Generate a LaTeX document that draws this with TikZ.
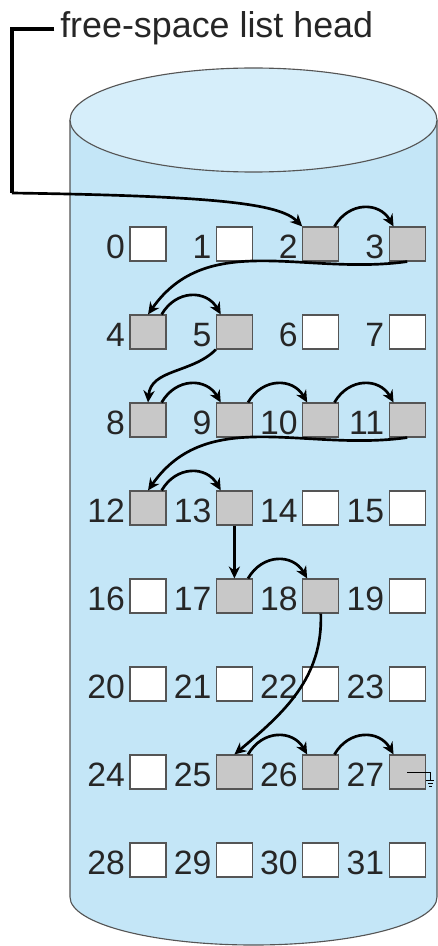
\documentclass[tikz,border=0pt]{standalone}
\usepackage{fontspec}
\setmainfont{Liberation Sans}
\usetikzlibrary{arrows.meta}

\definecolor{diskblue}{RGB}{196,230,247}
\definecolor{disktop}{RGB}{214,238,250}
\definecolor{freegray}{RGB}{200,200,200}
\definecolor{rimgray}{RGB}{85,85,85}

\tikzset{
  >={Stealth[length=8.5pt,width=8pt]},
  blk/.style={rectangle, draw=rimgray, line width=0.8pt, minimum width=0.9cm,
    minimum height=0.85cm, inner sep=0pt},
  usedblk/.style={blk, fill=white},
  freeblk/.style={blk, fill=freegray},
  num/.style={font=\fontsize{24}{28}\selectfont, inner sep=0pt, xshift=-3pt,
    yshift=-2pt, text=black!85},
  link/.style={->, line width=1.9pt}
}

\begin{document}
\begin{tikzpicture}
  \useasboundingbox (0,0) rectangle (10.95,-23.65);

  % disk
  \fill[diskblue] (1.75,-3) -- (1.75,-22.425)
    arc[start angle=180, end angle=360, x radius=4.5875, y radius=1.2]
    -- (10.925,-3) -- cycle;
  \draw[rimgray, line width=0.8pt] (1.75,-3) -- (1.75,-22.425)
    arc[start angle=180, end angle=360, x radius=4.5875, y radius=1.2]
    -- (10.925,-3);
  \filldraw[fill=disktop, draw=rimgray, line width=0.8pt]
    (6.3375,-3) ellipse[x radius=4.5875, y radius=1.3];

  % blocks
  \foreach \n in {0,1,6,7,14,15,16,19,20,21,22,23,24,28,29,30,31}{
    \pgfmathtruncatemacro\col{mod(\n,4)}
    \pgfmathtruncatemacro\row{\n/4}
    \node[usedblk, label={[num]left:\n}] (b\n) at ({3.7+2.16*\col},{-6.1-2.2*\row}) {};
  }
  \foreach \n in {2,3,4,5,8,9,10,11,12,13,17,18,25,26,27}{
    \pgfmathtruncatemacro\col{mod(\n,4)}
    \pgfmathtruncatemacro\row{\n/4}
    \node[freeblk, label={[num]left:\n}] (b\n) at ({3.7+2.16*\col},{-6.1-2.2*\row}) {};
  }

  % list head
  \node[anchor=base west, inner sep=0pt, font=\fontsize{25.5}{30}\selectfont,
    text=black!85] (head) at (1.5,-0.95) {free-space list head};
  \coordinate (corner) at (0.3,-4.825);
  \draw[line width=2.8pt] ([xshift=-4pt]head.west) -| (corner);
  \draw[link] (corner) .. controls (5.5,-4.9) and (7.0,-5.1) .. (b2.north west);

  % links
  \foreach \a/\b in {2/3,4/5,8/9,9/10,10/11,12/13,17/18,25/26,26/27}
    \draw[link] ([xshift=-3.5pt]b\a.north east) to[bend left=60, looseness=1.25]
      ([xshift=3.5pt]b\b.north west);
  \draw[link] (b3.south) to[out=188, in=55] (b4.north);
  \draw[link] (b5.south west) to[out=225, in=85] (b8.north);
  \draw[link] (b11.south) to[out=188, in=55] (b12.north);
  \draw[link] (b13.south) -- (b17.north);
  \draw[link] (b18.south) to[out=-88, in=40] (b25.north);

  % null pointer
  \draw[line width=0.6pt] (b27.center) -- ++(0.58,0) coordinate (gnd) -- ++(0,-0.2);
  \draw[line width=0.6pt] ([shift={(-0.1,-0.2)}]gnd) -- ++(0.2,0)
    ([shift={(-0.065,-0.275)}]gnd) -- ++(0.13,0)
    ([shift={(-0.03,-0.35)}]gnd) -- ++(0.06,0);
\end{tikzpicture}
\end{document}
